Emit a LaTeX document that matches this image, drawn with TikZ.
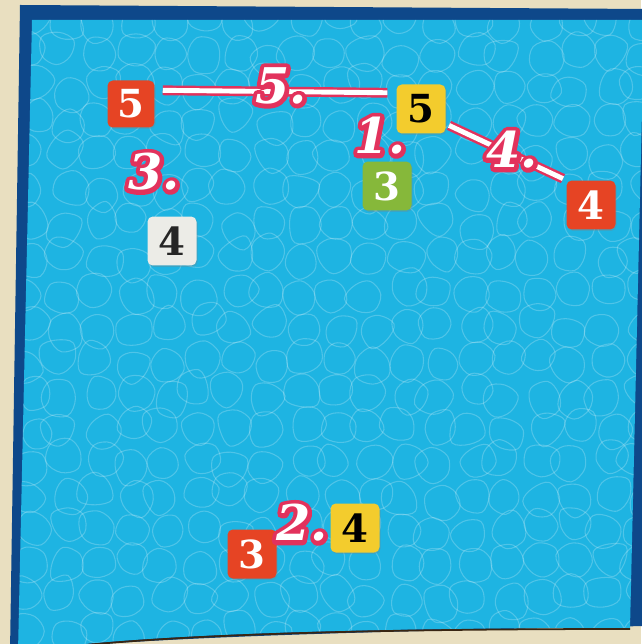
\documentclass[tikz,border=0pt]{standalone}
\usepackage{fontspec}
\usetikzlibrary{shadows}
\newfontfamily\tilefont{DejaVu Serif}
\definecolor{sand}{RGB}{233,223,192}
\definecolor{navy}{RGB}{14,72,138}
\definecolor{water}{RGB}{30,180,226}
\definecolor{tilered}{RGB}{230,68,36}
\definecolor{tileyellow}{RGB}{243,204,45}
\definecolor{tilegreen}{RGB}{134,184,58}
\definecolor{tilewhite}{RGB}{236,236,231}
\definecolor{ink}{RGB}{226,50,92}
% white script number with a pink rim (stroked glyphs underneath)
\newcommand{\paintlabel}[3]{%
  \node[brush,text=ink] at (#2)
    {\special{pdf:literal direct 1 j 5 w 2 Tr}#3\special{pdf:literal direct 0 Tr}};
  \node[brush,text=white] (#1) at (#2) {#3};}
\begin{document}
\begin{tikzpicture}[x=0.02cm,y=-0.02cm,
  tile/.style={rounded corners=3pt,minimum size=0.98cm,inner sep=0pt,
    drop shadow={opacity=0.3,shadow xshift=0.6pt,shadow yshift=-0.8pt},
    font=\tilefont\bfseries\fontsize{22}{22}\selectfont},
  brush/.style={inner sep=0pt,font=\tilefont\bfseries\itshape\fontsize{28}{28}\selectfont},
  paint/.style={draw=ink,line width=1.4pt,double=white,double distance=2.8pt},
  cell/.style={white,opacity=0.22,line width=0.6pt}]
  \useasboundingbox (0,0) rectangle (641,644);
  \fill[sand] (0,0) rectangle (641,644);
  % pool frame and water
  \fill[navy] (20,5)--(645,9)--(645,626) .. controls (400,631) and (150,636) .. (10,652)--cycle;
  \fill[water] (32,20)--(645,20)--(642,110)--(630,628) .. controls (400,628) and (150,632) .. (18,652)--cycle;
  \begin{scope}
    \clip (32,20)--(645,20)--(642,110)--(630,628) .. controls (400,628) and (150,632) .. (18,652)--cycle;
    \pgfmathsetseed{17}
    \foreach \i in {0,...,18}
      \foreach \j in {0,...,18}{
        \pgfmathsetmacro\cx{30+34*\i+7*rand}
        \pgfmathsetmacro\cy{20+34*\j+7*rand}
        \pgfmathsetmacro\ra{17+3*rand}
        \pgfmathsetmacro\rb{17+3*rand}
        \pgfmathsetmacro\rc{17+3*rand}
        \pgfmathsetmacro\rd{17+3*rand}
        \pgfmathsetmacro\re{17+3*rand}
        \pgfmathsetmacro\rf{17+3*rand}
        \begin{scope}[shift={(\cx,\cy)},rotate=30*rand]
          \draw[cell] plot[smooth cycle,tension=0.6] coordinates
            {(0:\ra) (60:\rb) (120:\rc) (180:\rd) (240:\re) (300:\rf)};
        \end{scope}
      }
  \end{scope}
  \draw[black!70!brown,line width=1pt] (630,629) .. controls (400,629) and (150,633) .. (18,653);
  % tiles
  \node[tile,fill=tilered,text=white,minimum size=0.94cm] (r5) at (131,104) {5};
  \node[tile,fill=tileyellow,text=black] (y5) at (421,109) {5};
  \node[tile,fill=tilegreen,text=white] (g3) at (387,186) {3};
  \node[tile,fill=tilered,text=white] (r4) at (591,205) {4};
  \node[tile,fill=tilewhite,text=black!85] (w4) at (172,241) {4};
  \node[tile,fill=tilered,text=white] (r3) at (252,554) {3};
  \node[tile,fill=tileyellow,text=black] (y4) at (355,528) {4};
  % strokes between tiles
  \draw[paint,shorten <=4.5pt,shorten >=5pt] (r5.30) -- (y5.147);
  \draw[paint,shorten <=2pt,shorten >=2pt] (y5.-31) -- (r4.135);
  % painted order numbers
  \paintlabel{n5}{281,86}{5.}
  \paintlabel{n1}{380,136}{1.}
  \paintlabel{n4}{512,150}{4.}
  \paintlabel{n3}{154,172}{3.}
  \paintlabel{n2}{302,523}{2.}
\end{tikzpicture}
\end{document}
